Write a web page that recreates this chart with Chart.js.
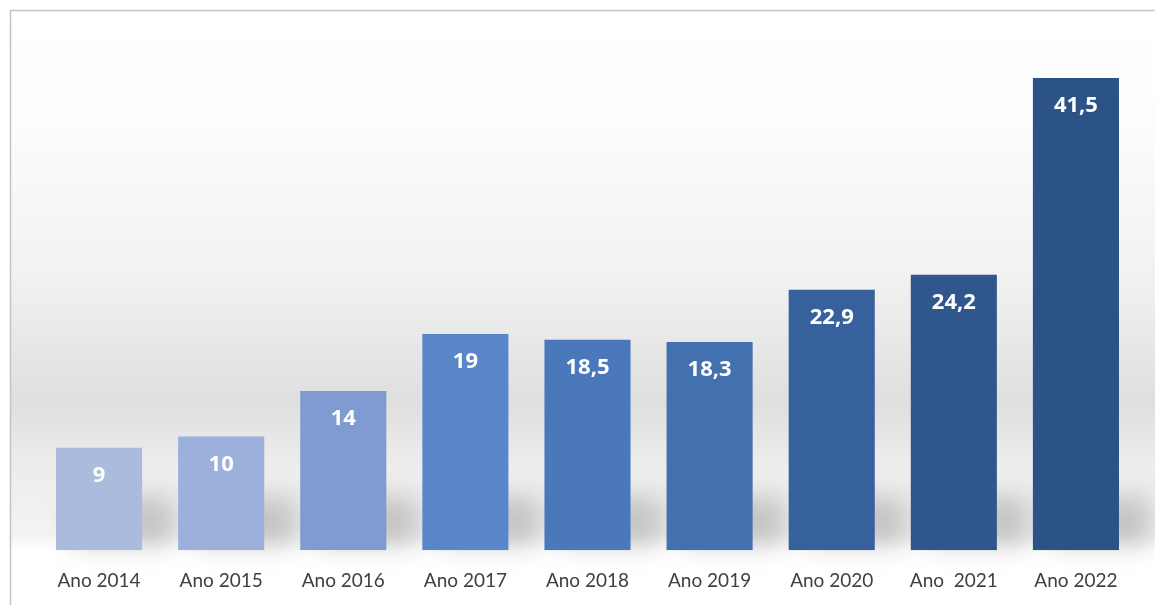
<!DOCTYPE html>
<html>
<head>
<meta charset="utf-8">
<script src="https://cdn.jsdelivr.net/npm/chart.js@4/dist/chart.umd.min.js"></script>
<style>
  html, body { margin: 0; padding: 0; background: #ffffff; }
  #wrap { position: relative; width: 1155px; height: 605px; }
</style>
</head>
<body>
<div id="wrap"><canvas id="barChart"></canvas></div>
<script>
// Data
const categories = ["Ano 2014", "Ano 2015", "Ano 2016", "Ano 2017", "Ano 2018", "Ano 2019", "Ano 2020", "Ano  2021", "Ano 2022"];
const values = [9, 10, 14, 19, 18.5, 18.3, 22.9, 24.2, 41.5];
const barColors = ["#abbbdd", "#9bb0da", "#7f9bd1", "#5a86c9", "#4a78bb", "#4370ae", "#36619d", "#30578d", "#2c5385"];

// Background panel: frame + soft grey band
const backdrop = {
    id: "backdrop",
    beforeDraw(chart) {
        const c = chart.ctx;
        const g = c.createLinearGradient(0, 10, 0, 605);
        g.addColorStop(0.00, "#ffffff");
        g.addColorStop(0.18, "#fdfdfd");
        g.addColorStop(0.45, "#f1f1f1");
        g.addColorStop(0.66, "#dfdfdf");
        g.addColorStop(0.76, "#ececec");
        g.addColorStop(0.88, "#f3f3f3");
        g.addColorStop(0.91, "#ffffff");
        g.addColorStop(1.00, "#ffffff");
        c.save();
        c.fillStyle = "#ffffff";
        c.fillRect(0, 0, chart.width, chart.height);
        c.fillStyle = g;
        c.fillRect(11, 11, chart.width, chart.height);
        c.strokeStyle = "#c4c4c4";
        c.lineWidth = 1.5;
        c.strokeRect(10.5, 10.5, chart.width + 20, chart.height + 20);
        c.restore();
    }
};

// Soft shadow at the foot of each bar
const barShadow = {
    id: "barShadow",
    beforeDatasetsDraw(chart) {
        const c = chart.ctx;
        const meta = chart.getDatasetMeta(0);
        c.save();
        c.filter = "blur(12px)";
        c.fillStyle = "rgba(70,70,70,0.26)";
        meta.data.forEach(bar => {
            const w = bar.width;
            const top = Math.max(bar.y, bar.base - 65);
            c.fillRect(bar.x - w / 2 + 16, top + 12, w + 16, bar.base - top - 16);
        });
        c.restore();
    }
};

// White value labels inside the top of each bar
const valueLabels = {
    id: "valueLabels",
    afterDatasetsDraw(chart) {
        const c = chart.ctx;
        const meta = chart.getDatasetMeta(0);
        c.save();
        c.font = "bold 22px 'Open Sans'";
        c.fillStyle = "#ffffff";
        c.textAlign = "center";
        c.textBaseline = "middle";
        meta.data.forEach((bar, i) => {
            const txt = String(values[i]).replace(".", ",");
            c.fillText(txt, bar.x, bar.y + 28);
        });
        c.restore();
    }
};

const ctx = document.getElementById("barChart").getContext("2d");
const chart = new Chart(ctx, {
    type: 'bar',
    data: {
        labels: categories,
        datasets: [{
            data: values,
            backgroundColor: barColors,
            borderWidth: 0,
            categoryPercentage: 1,
            barPercentage: 0.705
        }]
    },
    options: {
        responsive: true,
        maintainAspectRatio: false,
        animation: false,
        layout: { padding: { top: 20, left: 38, right: 18, bottom: -6 } },
        plugins: {
            legend: { display: false },
            tooltip: { enabled: false }
        },
        scales: {
            x: {
                grid: { display: false, drawTicks: false },
                border: { display: false },
                ticks: {
                    color: "#404040",
                    padding: 19,
                    maxRotation: 0,
                    font: { family: "Lato", size: 19 }
                }
            },
            y: {
                display: false,
                min: 0,
                max: 46.6
            }
        }
    },
    plugins: [backdrop, barShadow, valueLabels]
});
</script>
</body>
</html>
